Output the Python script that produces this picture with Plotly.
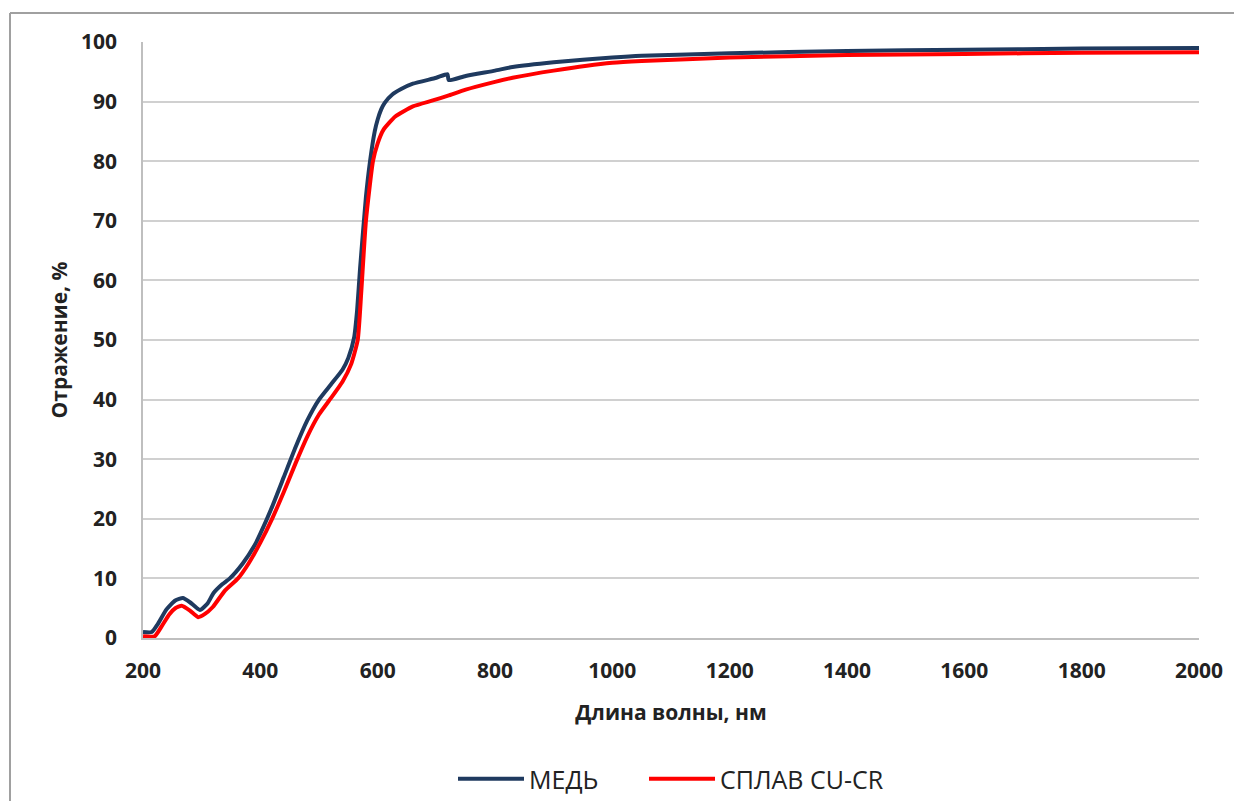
import plotly.graph_objects as go

# Wavelength (nm) and reflectance (%)
wl_cu = [200, 215, 225, 240, 255, 268, 280, 297, 310, 320, 335, 348, 370, 390, 400, 420, 440,
         460, 480, 500, 520, 540, 550, 560, 565, 570, 580, 587, 595, 600, 606, 612, 625, 640, 660, 700,
         719, 721, 750, 800, 830, 900, 1000, 1050, 1200, 1400, 1600, 1800, 2000]
r_cu = [1.0, 1.0, 2.3, 4.8, 6.3, 6.7, 6.0, 4.7, 5.8, 7.5, 9.0, 10.0, 12.5, 15.5, 17.5, 22.0, 27.0,
        32.0, 36.5, 40.0, 42.5, 45.0, 47.0, 50.5, 55.0, 62.0, 74.0, 80.0, 85.0, 87.0, 88.7, 89.8, 91.2, 92.1, 93.0, 94.0,
        94.6, 93.6, 94.3, 95.2, 95.8, 96.6, 97.4, 97.7, 98.1, 98.5, 98.7, 98.9, 99.0]

wl_alloy = [200, 220, 232, 245, 255, 266, 280, 294, 305, 319, 340, 362, 380, 400, 420, 440,
            460, 480, 500, 520, 540, 555, 566, 572, 580, 592, 600, 610, 630, 660, 694, 720, 750,
            800, 830, 900, 1000, 1050, 1200, 1400, 1600, 1800, 2000]
r_alloy = [0.3, 0.3, 2.0, 4.0, 5.0, 5.4, 4.6, 3.5, 4.0, 5.2, 8.0, 10.0, 12.5, 16.0, 20.0, 24.5,
           29.3, 33.8, 37.5, 40.2, 43.0, 46.0, 50.0, 58.0, 70.0, 80.0, 83.0, 85.3, 87.5, 89.2, 90.2, 91.0, 92.0,
           93.3, 94.0, 95.2, 96.5, 96.8, 97.4, 97.8, 98.0, 98.2, 98.3]

x_ticks = [200, 400, 600, 800, 1000, 1200, 1400, 1600, 1800, 2000]
y_ticks = [0, 10, 20, 30, 40, 50, 60, 70, 80, 90, 100]

name_cu = "МЕДЬ"
name_alloy = "СПЛАВ CU-CR"

fig = go.Figure()
fig.add_trace(go.Scatter(x=wl_cu, y=r_cu, mode="lines", name=name_cu, legend="legend",
                         line=dict(color="#1F3A5F", width=4, shape="spline", smoothing=0.5)))
fig.add_trace(go.Scatter(x=wl_alloy, y=r_alloy, mode="lines", name=name_alloy, legend="legend2",
                         line=dict(color="#FF0000", width=4, shape="spline", smoothing=0.5)))

# figure coordinates (page body has an 8px margin)
W, H = 1226, 793
ml, mr, mt, mb = 135, 35, 34, 163
pw, ph = W - ml - mr, H - mt - mb

def px(xpix):
    return (xpix - ml) / pw

def py(ypix):
    return 1 - (ypix - mt) / ph

TXT = "#222222"
FONT = "Open Sans, Liberation Sans, sans-serif"

leg_common = dict(orientation="h", xanchor="left", yanchor="middle", y=py(771),
                  font=dict(size=25, family=FONT, color=TXT),
                  itemwidth=66, bgcolor="rgba(0,0,0,0)")

fig.update_layout(
    width=W, height=H,
    margin=dict(l=ml, r=mr, t=mt, b=mb, autoexpand=False),
    paper_bgcolor="white", plot_bgcolor="white",
    font=dict(family=FONT, color=TXT),
    showlegend=True,
    legend=dict(x=px(445), **leg_common),
    legend2=dict(x=px(636), **leg_common),
    xaxis=dict(range=[200, 2000], tickvals=x_ticks, ticktext=[str(v) for v in x_ticks],
               showgrid=False, showline=True, linecolor="#BFBFBF", linewidth=1.5,
               ticks="", ticklabelstandoff=13, automargin=False,
               tickfont=dict(size=21, family=FONT, color=TXT, weight="bold"),
               title=dict(text="<b>Длина волны, нм</b>", font=dict(size=21, color=TXT), standoff=22),
               zeroline=False),
    yaxis=dict(range=[0, 100], tickvals=y_ticks, ticktext=[str(v) for v in y_ticks],
               showgrid=True, gridcolor="#D0D0D0", gridwidth=1.5,
               showline=True, linecolor="#BFBFBF", linewidth=1.5,
               ticks="", ticklabelstandoff=20, automargin=False,
               tickfont=dict(size=21, family=FONT, color=TXT, weight="bold"),
               title=dict(text="<b>Отражение, %</b>", font=dict(size=21, color=TXT), standoff=8),
               zeroline=False),
)

# outer chart-area border (left and top edges visible in the reference)
fig.add_shape(type="line", xref="paper", yref="paper", x0=px(2), x1=px(2), y0=py(5), y1=py(810),
              line=dict(color="#A0A0A0", width=2))
fig.add_shape(type="line", xref="paper", yref="paper", x0=px(2), x1=px(1250), y0=py(5), y1=py(5),
              line=dict(color="#A0A0A0", width=2))

fig.write_html("out.html")
